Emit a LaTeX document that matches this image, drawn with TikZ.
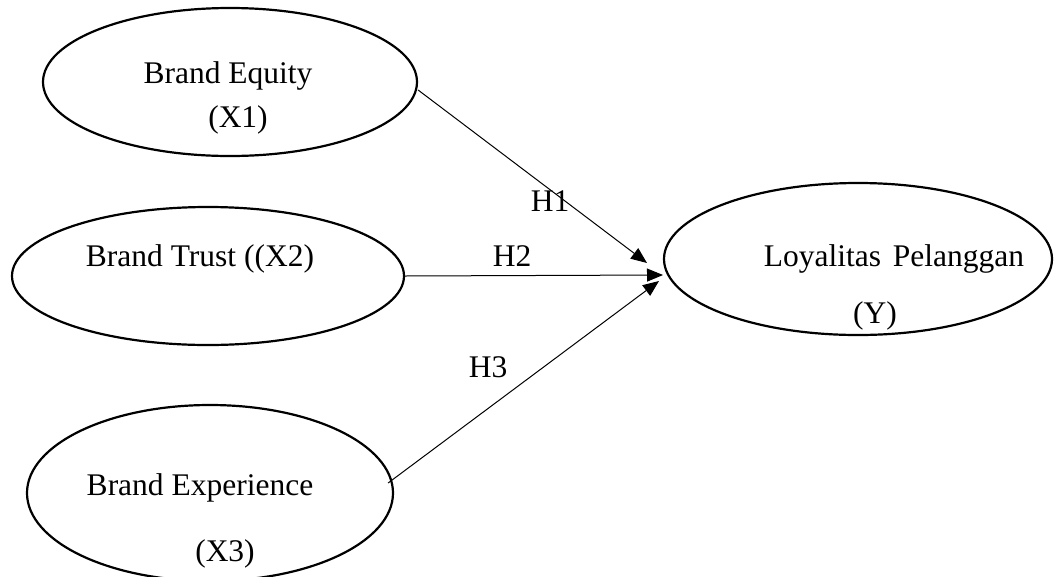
\documentclass[tikz,border=0pt]{standalone}
\usepackage{fontspec}
\setmainfont{Liberation Serif}
\usetikzlibrary{shapes.geometric,arrows.meta}
\begin{document}
\begin{tikzpicture}[x=1pt,y=-1pt,
  var/.style={draw,ellipse,line width=2.2pt,inner sep=0pt},
  txt/.style={font=\fontsize{31.5}{36}\selectfont,inner sep=0pt,anchor=base},
  conn/.style={line width=1pt,-{Triangle[length=16pt,width=13pt]}}]
\useasboundingbox (0,0) rectangle (1054,576);
\node[var,minimum width=374pt,minimum height=148pt] (x1) at (230,82) {};
\node[var,minimum width=392pt,minimum height=138pt] (x2) at (208,276) {};
\node[var,minimum width=366pt,minimum height=176pt] (x3) at (210,493) {};
\node[var,minimum width=388pt,minimum height=152pt] (y) at (858,259) {};
\node[txt] (t1a) at (228,83) {Brand Equity};
\node[txt] (t1b) at (238,127) {(X1)};
\node[txt] (t2) at (200,266) {Brand Trust ((X2)};
\node[txt] (t3a) at (200,495) {Brand Experience};
\node[txt] (t3b) at (225,561) {(X3)};
\node[txt] (tya) at (894,266) {Loyalitas\hspace{4pt} Pelanggan};
\node[txt] (tyb) at (875,323) {(Y)};
\coordinate (e1) at (647,263);
\coordinate (e2) at (663,275);
\coordinate (e3) at (659,281);
\draw[conn] (x1.east) ++(0,8) coordinate (s1) -- (e1);
\draw[conn] (x2.east) -- (e2);
\draw[conn] (x3.east) ++(-6,-10) coordinate (s3) -- (e3);
\node[txt] (h1) at (550,211) {H1};
\node[txt] (h2) at (512,266) {H2};
\node[txt] (h3) at (488,377) {H3};
\end{tikzpicture}
\end{document}
